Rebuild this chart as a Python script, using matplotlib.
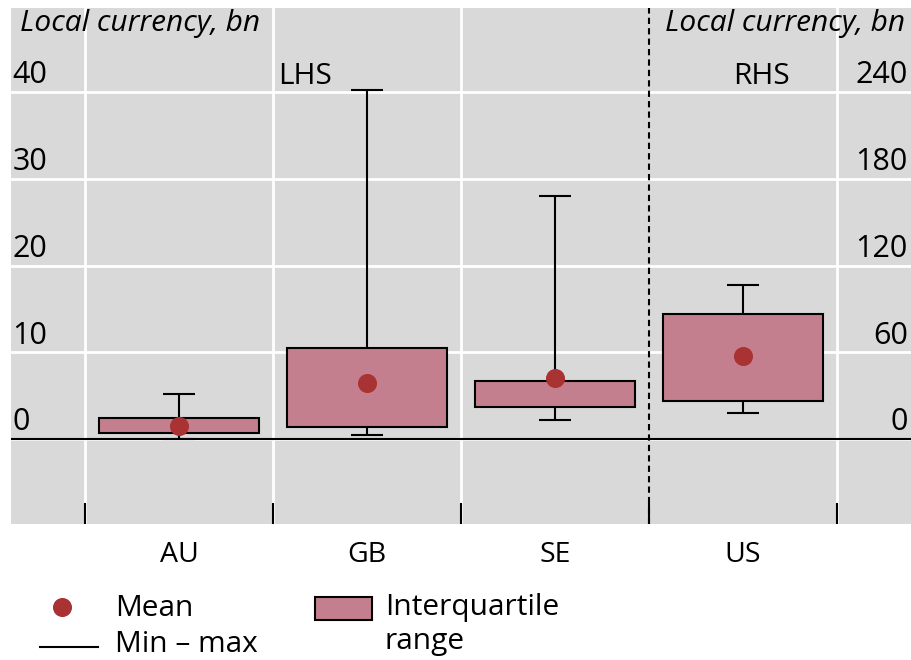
import matplotlib
matplotlib.use("Agg")
import matplotlib.pyplot as plt
import matplotlib.transforms as mtransforms
from matplotlib.lines import Line2D
from matplotlib.patches import Rectangle

plt.rcParams['font.family'] = ['Open Sans', 'DejaVu Sans']

# data (local currency, bn)
countries = ["AU", "GB", "SE", "US"]
q1 = [0.7, 1.35, 3.7, 26.5]
q3 = [2.45, 10.5, 6.7, 86.5]
mins = [0.0, 0.5, 2.2, 17.8]
maxs = [5.15, 40.3, 28.0, 106.6]
means = [1.55, 6.5, 7.0, 57.7]
on_rhs = [False, False, False, True]

left_ticks = [0, 10, 20, 30, 40]
right_ticks = [0, 60, 120, 180, 240]
rhs_scale = 6.0

box_col = "#c37f8e"
mean_col = "#a93232"
bg = "#d9d9d9"

fig = plt.figure(figsize=(9.12, 6.6), dpi=100)
ax = fig.add_axes([11 / 912, 1 - 524 / 660, 1 - 11 / 912, (524 - 8) / 660])
ax.set_facecolor(bg)
for s in ax.spines.values():
    s.set_visible(False)

ylo, yhi = -9.8, 49.7
ax.set_ylim(ylo, yhi)
ax.set_xlim(-0.894, 3.899)

ax2 = ax.twinx()
ax2.set_ylim(ylo * rhs_scale, yhi * rhs_scale)
ax2.set_xlim(ax.get_xlim())
for s in ax2.spines.values():
    s.set_visible(False)
ax2.set_yticks([])

# grid
for v in left_ticks:
    ax.axhline(v, color="white", lw=2, zorder=0)
for xv in [-0.5, 0.5, 1.5, 3.5]:
    ax.axvline(xv, color="white", lw=2, zorder=0)
ax.axvline(2.5, color="black", lw=1.5, ls=(0, (3, 2)), zorder=1)
ax.axhline(0, color="black", lw=1.5, zorder=1)

# boxes
w = 0.85
cap = 0.085
for i, c in enumerate(countries):
    a = ax2 if on_rhs[i] else ax
    a.vlines(i, mins[i], q1[i], color="black", lw=1.5, zorder=2)
    a.vlines(i, q3[i], maxs[i], color="black", lw=1.5, zorder=2)
    a.hlines([mins[i], maxs[i]], i - cap, i + cap, color="black", lw=1.5, zorder=2)
    a.add_patch(Rectangle((i - w / 2, q1[i]), w, q3[i] - q1[i],
                          facecolor=box_col, edgecolor="black", lw=1.5, zorder=3))
    a.plot(i, means[i], "o", color=mean_col, ms=12.7, zorder=4)

# tick labels inside the panel
ax.set_yticks([])
ax.set_xticks(range(len(countries)))
ax.set_xticklabels(countries, fontsize=20.5)
ax.tick_params(axis="x", length=0, pad=12)
ax.set_xticks([-0.5, 0.5, 1.5, 2.5, 3.5], minor=True)
ax.tick_params(axis="x", which="minor", direction="in", length=15, width=1.5, color="black")

tl = mtransforms.blended_transform_factory(ax.transAxes, ax.transData)
for v in left_ticks:
    ax.annotate(str(v), (0, v), xycoords=tl, xytext=(1, 12), textcoords="offset points",
                ha="left", va="center", fontsize=22)
tr = mtransforms.blended_transform_factory(ax2.transAxes, ax2.transData)
for v in right_ticks:
    ax2.annotate(str(v), (1, v), xycoords=tr, xytext=(-3, 12), textcoords="offset points",
                 ha="right", va="center", fontsize=22)

fig.text(20 / 912, 1 - 24 / 660, "Local currency, bn", style="italic", fontsize=21.5,
         ha="left", va="center")
fig.text(905 / 912, 1 - 24 / 660, "Local currency, bn", style="italic", fontsize=21.5,
         ha="right", va="center")
fig.text(305 / 912, 1 - 76 / 660, "LHS", fontsize=21.5, ha="center", va="center")
fig.text(762 / 912, 1 - 76 / 660, "RHS", fontsize=21.5, ha="center", va="center")

# legend
fig.add_artist(Line2D([62 / 912], [1 - 607 / 660], marker="o", color=mean_col, ms=12.7,
                      transform=fig.transFigure))
fig.text(115 / 912, 1 - 608 / 660, "Mean", fontsize=21.5, va="center")
fig.add_artist(Line2D([40 / 912, 98 / 912], [1 - 647 / 660] * 2, color="black", lw=1.5,
                      transform=fig.transFigure))
fig.text(115 / 912, 1 - 645 / 660, "Min – max", fontsize=21.5, va="center")
fig.add_artist(Rectangle((315 / 912, 1 - 620 / 660), 57 / 912, 23 / 660, facecolor=box_col,
                         edgecolor="black", lw=1.5, transform=fig.transFigure))
fig.text(385 / 912, 1 - 608 / 660, "Interquartile", fontsize=21.5, va="center")
fig.text(385 / 912, 1 - 641 / 660, "range", fontsize=21.5, va="center")

fig.savefig("out.png", dpi=100)
